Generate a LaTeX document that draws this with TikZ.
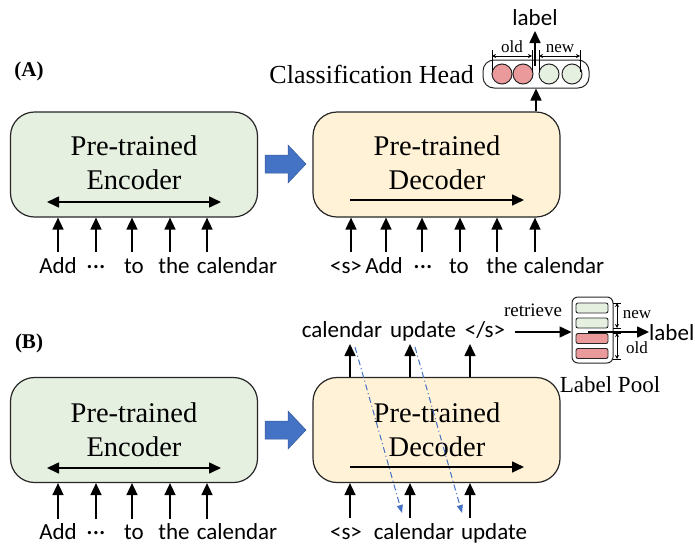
\documentclass[tikz,border=0pt]{standalone}
\usepackage{fontspec}
\setmainfont{Liberation Serif}
\newfontfamily\sansf{Carlito}
\usetikzlibrary{arrows.meta}
\definecolor{boxgreen}{HTML}{E6F0E1}
\definecolor{boxcream}{HTML}{FFF2D6}
\definecolor{cirred}{HTML}{EA9A9A}
\definecolor{cirgreen}{HTML}{E6F0E1}
\definecolor{arrblue}{HTML}{4472C4}
\newcommand{\mydots}{\char"00B7\kern0.6pt\char"00B7\kern0.6pt\char"00B7}
\tikzset{
  bigbox/.style={draw=black!85, line width=1.2pt, rounded corners=24pt, minimum width=247pt, minimum height=105pt, inner sep=0pt},
  boxtxt/.style={font=\fontsize{28.5}{30}\selectfont, inner sep=0pt, anchor=base},
  tok/.style={font=\sansf\fontsize{23}{25}\selectfont, inner sep=0pt, anchor=base},
  small/.style={font=\fontsize{17}{19}\selectfont, inner sep=0pt, anchor=base},
  inarr/.style={line width=1.6pt, -{Triangle[width=11pt,length=12pt]}},
  dbl/.style={line width=1.6pt, {Triangle[width=11pt,length=12pt]}-{Triangle[width=11pt,length=12pt]}},
  thinarr/.style={line width=0.8pt, {Stealth[width=4pt,length=4pt]}-{Stealth[width=4pt,length=4pt]}},
  blockarr/.style={fill=arrblue, draw=arrblue!80!black, line width=0.5pt},
  dd/.style={draw=arrblue, line width=1pt, dash pattern=on 6pt off 3pt on 1pt off 3pt, -{Triangle[width=6pt,length=8pt]}},
  cir/.style={circle, draw=black!85, line width=1pt, minimum size=20pt, inner sep=0pt},
  bar/.style={draw=black!85, line width=0.9pt, rounded corners=2pt, minimum width=32pt, minimum height=10pt, inner sep=0pt}
}
\begin{document}
\begin{tikzpicture}[x=1pt,y=-1pt]
\useasboundingbox (0,0) rectangle (695,544);

% ================= (A) =================
\node[font=\bfseries\fontsize{21}{23}\selectfont, inner sep=0pt] (labA) at (29,71) {(A)};

\node[bigbox, fill=boxgreen] (encA) at (134,164.5) {};
\node[boxtxt] (encAt1) at (134,155) {Pre-trained};
\node[boxtxt] (encAt2) at (134,189) {Encoder};
\coordinate (encAl) at (47,202);
\coordinate (encAr) at (221,202);
\draw[dbl] (encAl) -- (encAr);

\foreach \x/\n in {58/1,96/2,132/3,170/4,207/5}{
  \coordinate (eai\n) at (\x,252);
  \draw[inarr] (eai\n) -- (eai\n |- encA.south);
}
\node[tok] (ewa1) at (58,273) {Add};
\node[tok] (ewa2) at (96,273) {\mydots};
\node[tok] (ewa3) at (134,273) {to};
\node[tok] (ewa4) at (174,273) {the};
\node[tok] (ewa5) at (237,273) {calendar};

\draw[blockarr] (265,155) -- (288,155) -- (288,145) -- (306,164) -- (288,183) -- (288,173) -- (265,173) -- cycle;

\node[bigbox, fill=boxcream] (decA) at (436.5,164.5) {};
\node[boxtxt] (decAt1) at (437,155) {Pre-trained};
\node[boxtxt] (decAt2) at (437,189) {Decoder};
\coordinate (decAl) at (350,200);
\coordinate (decAr) at (524,200);
\draw[inarr] (decAl) -- (decAr);

\foreach \x/\n in {351/1,386/2,422/3,460/4,497/5,535/6}{
  \coordinate (dai\n) at (\x,252);
  \draw[inarr] (dai\n) -- (dai\n |- decA.south);
}
\node[tok] (dwa1) at (346,273) {<s>};
\node[tok] (dwa2) at (384,273) {Add};
\node[tok] (dwa3) at (423,273) {\mydots};
\node[tok] (dwa4) at (459,273) {to};
\node[tok] (dwa5) at (502,273) {the};
\node[tok] (dwa6) at (564,273) {calendar};

% classification head
\node[draw=black!85, line width=1pt, rounded corners=11pt, minimum width=106pt, minimum height=28pt, inner sep=0pt] (head) at (536,74) {};
\node[font=\fontsize{26}{28}\selectfont, inner sep=0pt, anchor=base east] (headt) at (474,83) {Classification Head};
\node[cir, fill=cirred] (c1) at (502,74) {};
\node[cir, fill=cirred] (c2) at (523,74) {};
\node[cir, fill=cirgreen] (c3) at (549,74) {};
\node[cir, fill=cirgreen] (c4) at (572,74) {};
\draw[inarr] (decA.north -| head.south) -- (head.south);
\coordinate (hl) at (535,66);
\node[tok] (labelA) at (535,25) {label};
\draw[inarr] (hl) -- (535,31);
% brackets
\draw[line width=0.8pt] (492,50) -- (492,72) (532,50) -- (532,72);
\draw[thinarr] (492,56) -- (532,56);
\draw[line width=0.8pt] (539,50) -- (539,72) (580,50) -- (580,72);
\draw[thinarr] (539,56) -- (580,56);
\node[small] (oldA) at (512,52) {old};
\node[small] (newA) at (560,52) {new};

% ================= (B) =================
\node[font=\bfseries\fontsize{21}{23}\selectfont, inner sep=0pt] (labB) at (29,343) {(B)};

\node[bigbox, fill=boxgreen] (encB) at (134,430) {};
\node[boxtxt] (encBt1) at (134,422) {Pre-trained};
\node[boxtxt] (encBt2) at (134,456) {Encoder};
\coordinate (encBl) at (47,468);
\coordinate (encBr) at (221,468);
\draw[dbl] (encBl) -- (encBr);

\foreach \x/\n in {58/1,96/2,132/3,170/4,207/5}{
  \coordinate (ebi\n) at (\x,519);
  \draw[inarr] (ebi\n) -- (ebi\n |- encB.south);
}
\node[tok] (ewb1) at (58,539) {Add};
\node[tok] (ewb2) at (96,539) {\mydots};
\node[tok] (ewb3) at (134,539) {to};
\node[tok] (ewb4) at (174,539) {the};
\node[tok] (ewb5) at (237,539) {calendar};

\draw[blockarr] (265,421) -- (288,421) -- (288,411) -- (306,430) -- (288,449) -- (288,439) -- (265,439) -- cycle;

\node[bigbox, fill=boxcream] (decB) at (436.5,430) {};
\node[boxtxt] (decBt1) at (437,422) {Pre-trained};
\node[boxtxt] (decBt2) at (437,456) {Decoder};
\coordinate (decBl) at (350,467);
\coordinate (decBr) at (524,467);
\draw[inarr] (decBl) -- (decBr);

\foreach \x/\n in {350/1,410/2,470/3}{
  \coordinate (dbi\n) at (\x,518);
  \draw[inarr] (dbi\n) -- (dbi\n |- decB.south);
  \coordinate (dbo\n) at (\x,344);
  \draw[inarr] (dbo\n |- decB.north) -- (dbo\n);
}
\node[tok] (dwb1) at (346,539) {<s>};
\node[tok] (dwb2) at (414,539) {calendar};
\node[tok] (dwb3) at (494,539) {update};
\node[tok] (owb1) at (342,337) {calendar};
\node[tok] (owb2) at (423,337) {update};
\node[tok] (owb3) at (485,337) {</s>};

\coordinate (dd1s) at (355,347);
\coordinate (dd1e) at (402,513);
\coordinate (dd2s) at (415,347);
\coordinate (dd2e) at (462,513);
\draw[dd] (dd1s) -- (dd1e);
\draw[dd] (dd2s) -- (dd2e);

% retrieve
\node[small, font=\fontsize{19}{21}\selectfont] (retr) at (533,316) {retrieve};
\coordinate (retS) at (515,332);

% label pool
\node[draw=black!85, line width=1pt, rounded corners=6pt, minimum width=41pt, minimum height=66pt, inner sep=0pt] (pool) at (592.5,330) {};
\node[bar, fill=cirgreen] (b1) at (592,308) {};
\node[bar, fill=cirgreen] (b2) at (592,323) {};
\node[bar, fill=cirred] (b3) at (592,338.5) {};
\node[bar, fill=cirred] (b4) at (592,353.5) {};
\draw[inarr] (retS) -- (pool.west |- retS);
\node[font=\fontsize{23}{25}\selectfont, inner sep=0pt, anchor=base] (poolt) at (610,392) {Label Pool};
\draw[line width=0.8pt] (613,303) -- (621,303) (613,328) -- (621,328);
\draw[thinarr] (617,303) -- (617,328);
\draw[line width=0.8pt] (613,333) -- (621,333) (613,359) -- (621,359);
\draw[thinarr] (617,333) -- (617,359);
\node[small] (newB) at (637,318) {new};
\node[small] (oldB) at (637,353) {old};
\coordinate (poolS) at (588,332);
\node[tok, anchor=base west] (labelB) at (649,340) {label};
\draw[inarr] (poolS) -- (labelB.west |- poolS);
\end{tikzpicture}
\end{document}
